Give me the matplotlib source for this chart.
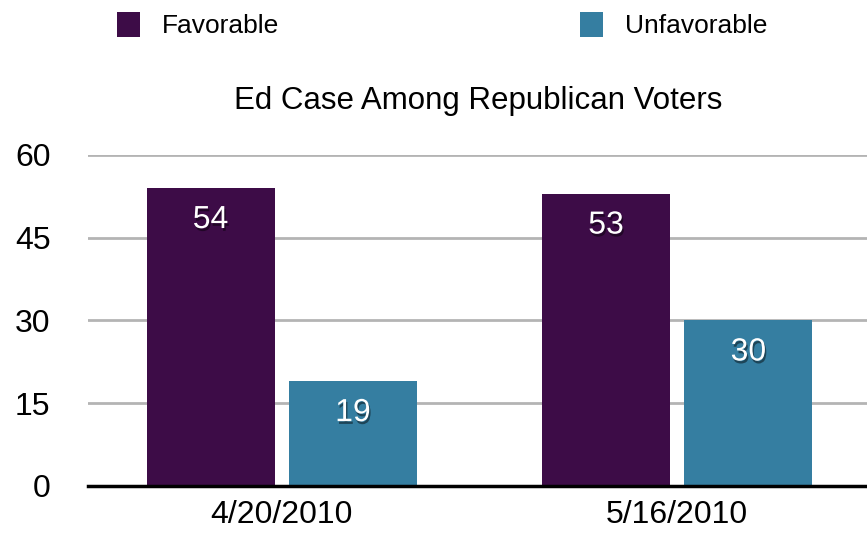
import matplotlib.pyplot as plt
import matplotlib.patheffects as pe
import numpy as np

plt.rcParams['font.family'] = ['Liberation Sans', 'DejaVu Sans']

# data
dates = ['4/20/2010', '5/16/2010']
favorable = [54, 53]
unfavorable = [19, 30]
yticks = [0, 15, 30, 45, 60]

purple = '#3d0c47'
teal = '#357ea1'

fig = plt.figure(figsize=(8.67, 5.33), dpi=100)
ax = fig.add_axes([0.1015, 0.0882, 0.8985, 0.621])

x = np.arange(len(dates))
w = 0.324
off = 0.18
b1 = ax.bar(x - off, favorable, w, color=purple, label='Favorable', zorder=3)
b2 = ax.bar(x + off, unfavorable, w, color=teal, label='Unfavorable', zorder=3)

shadow = [pe.withSimplePatchShadow(offset=(1, -2), shadow_rgbFace='black', alpha=0.45)]
for bars, vals in [(b1, favorable), (b2, unfavorable)]:
    for r, v in zip(bars, vals):
        ax.annotate(str(v), (r.get_x() + r.get_width() / 2, v), xytext=(0, -23),
                    textcoords='offset points', ha='center', va='center',
                    color='white', fontsize=23, zorder=4, path_effects=shadow)

ax.set_xlim(-0.49, 1.48)
ax.set_ylim(0, 60)
ax.set_yticks(yticks)
ax.set_xticks(x)
ax.set_xticklabels(dates)
ax.tick_params(axis='both', length=0, labelsize=23)
ax.tick_params(axis='y', pad=27)
ax.tick_params(axis='x', pad=10)
ax.grid(axis='y', color='#b4b4b4', linewidth=2, zorder=0)
for s in ['top', 'right', 'left']:
    ax.spines[s].set_visible(False)
ax.spines['bottom'].set_linewidth(2.5)
ax.spines['bottom'].set_zorder(5)

fig.text(0.551, 0.81, 'Ed Case Among Republican Voters', ha='center', va='center', fontsize=22.5)

fig.legend(handles=[b1, b2], loc='center left', bbox_to_anchor=(0.135, 0.953), ncol=2,
           frameon=False, fontsize=19, handlelength=0.87, handleheight=1.1,
           handletextpad=0.83, columnspacing=11.4, borderaxespad=0, borderpad=0)

fig.savefig('out.png', dpi=100)
